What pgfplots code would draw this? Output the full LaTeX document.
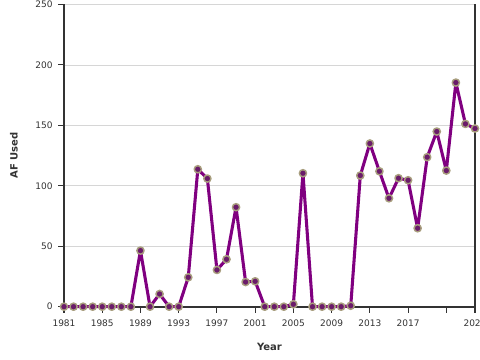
\documentclass[border=0pt]{standalone}
\usepackage{pgfplots}
\pgfplotsset{compat=1.18}
\usepackage{fontspec}
\setmainfont{DejaVu Sans}
\definecolor{lineP}{HTML}{800080}
\definecolor{markF}{HTML}{6A1B6A}
\definecolor{markD}{HTML}{A89E7E}
\definecolor{axc}{HTML}{333333}
\definecolor{gridc}{HTML}{D6D6D6}
\begin{document}
\begin{tikzpicture}
\begin{axis}[
  at={(48pt,39.975pt)}, anchor=south west,
  scale only axis, width=308.25pt, height=226.65pt,
  xmin=1981, xmax=2024, ymin=0, ymax=250,
  axis x line*=bottom, axis y line*=left,
  axis line style={axc, line width=1.3pt},
  tick align=outside, major tick length=4.5pt,
  tick style={axc, line width=0.8pt},
  xtick={1981,1985,1989,1993,1997,2001,2005,2009,2013,2017,2021,2024},
  xticklabels={1981,1985,1989,1993,1997,2001,2005,2009,2013,2017,,2024},
  ytick={0,50,100,150,200,250},
  ymajorgrids, grid style={gridc, line width=0.6pt},
  /pgf/number format/assume math mode=true,
  /pgf/number format/1000 sep={},
  tick label style={font=\fontsize{6.75pt}{8pt}\selectfont, text=axc},
  xticklabel style={yshift=-2pt},
  yticklabel style={xshift=-0.5pt},
  xlabel={Year}, ylabel={AF Used},
  label style={font=\bfseries\fontsize{7.5pt}{9pt}\selectfont, text=axc},
  xlabel style={at={(axis description cs:0.5,-0.1332)}, anchor=center},
  ylabel style={at={(axis description cs:-0.1217,0.5)}, anchor=center},
  clip=false,
]
\addplot[lineP, line width=2.3pt, line join=round, mark=*, mark size=2.7pt,
  mark options={fill=markF, draw=markD, line width=1.1pt}] coordinates {
(1981,0)(1982,0)(1983,0)(1984,0)(1985,0)(1986,0)(1987,0)(1988,0)
(1989,46.4)(1990,0)(1991,10.5)(1992,0)(1993,0)(1994,24.3)(1995,113.7)
(1996,106)(1997,30.4)(1998,39.2)(1999,82.3)(2000,20.4)(2001,21)
(2002,0)(2003,0)(2004,0)(2005,2)(2006,110.4)(2007,0)(2008,0)(2009,0)
(2010,0)(2011,0.8)(2012,108.5)(2013,135)(2014,112)(2015,89.7)(2016,106.3)
(2017,104.6)(2018,64.9)(2019,123.7)(2020,144.9)(2021,112.6)(2022,185.4)
(2023,151.2)(2024,147.4)};
\draw[axc, line width=1.3pt] (rel axis cs:1,0) -- (rel axis cs:1,1);
\end{axis}
\pgfresetboundingbox
\path[use as bounding box] (0,0) rectangle (360pt,270pt);
\end{tikzpicture}
\end{document}
